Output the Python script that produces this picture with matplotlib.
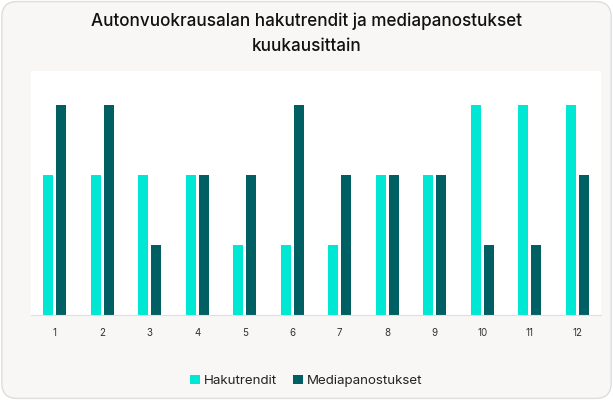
import numpy as np
import matplotlib.pyplot as plt
from matplotlib.patches import FancyBboxPatch

plt.rcParams['font.family'] = ['Inter', 'DejaVu Sans']

months = ['1', '2', '3', '4', '5', '6', '7', '8', '9', '10', '11', '12']
hakutrendit = [2, 2, 2, 2, 1, 1, 1, 2, 2, 3, 3, 3]
mediapanostukset = [3, 3, 1, 2, 2, 3, 2, 2, 2, 1, 1, 2]

cyan = '#00e8d4'
teal = '#005f63'

fig = plt.figure(figsize=(6.13, 4.0), dpi=100)
fig.patch.set_facecolor('white')

card = FancyBboxPatch((0.003, 0.004), 0.994, 0.992,
                      boxstyle='round,pad=0,rounding_size=0.025',
                      transform=fig.transFigure, facecolor='#f8f7f5',
                      edgecolor='#dddddd', linewidth=1.0, zorder=-10,
                      mutation_aspect=613 / 400)
fig.patches.append(card)

fig.text(0.5, 0.947, 'Autonvuokrausalan hakutrendit ja mediapanostukset',
         ha='center', va='center', fontsize=12.3, fontweight='medium', color='#111111')
fig.text(0.5, 0.884, 'kuukausittain',
         ha='center', va='center', fontsize=12.3, fontweight='medium', color='#111111')

ax = fig.add_axes([31 / 613, 1 - 315 / 400, 570 / 613, 244 / 400])
ax.set_zorder(5)
ax.set_facecolor('white')

x = np.arange(len(months))
w = 0.215
ax.bar(x - w / 2 - 0.03, hakutrendit, width=w, color=cyan, label='Hakutrendit')
ax.bar(x + w / 2 + 0.03, mediapanostukset, width=w, color=teal, label='Mediapanostukset')

ax.set_xlim(-0.5, 11.5)
ax.set_ylim(0, 3.49)
ax.set_xticks(x)
ax.set_xticklabels(months, fontsize=7, color='#333333')
ax.set_yticks([])
ax.tick_params(axis='x', length=0, pad=9)
for s in ['top', 'left', 'right']:
    ax.spines[s].set_visible(False)
ax.spines['bottom'].set_color('#e0e0e0')
ax.spines['bottom'].set_linewidth(0.8)

leg = fig.legend(loc='center', bbox_to_anchor=(0.5, 0.048), ncol=2, frameon=False,
                 fontsize=9.6, handlelength=0.75, handleheight=0.75,
                 handletextpad=0.3, columnspacing=1.2, labelcolor='#222222')
leg.set_zorder(6)

fig.savefig('out.png', dpi=100, facecolor='white')
